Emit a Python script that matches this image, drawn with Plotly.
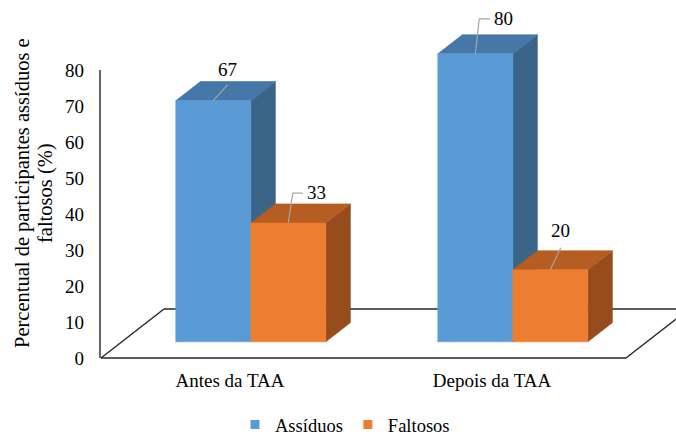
import plotly.graph_objects as go

# ---------------- data ----------------
categories = ["Antes da TAA", "Depois da TAA"]
series_names = ["Assíduos", "Faltosos"]
assiduos = [67, 80]
faltosos = [33, 20]
y_ticks = [0, 10, 20, 30, 40, 50, 60, 70, 80]
y_title_lines = ["Percentual de participantes assíduos e", "faltosos (%)"]

# ---------------- style / geometry ----------------
W, H = 676, 436
ML, MR, MT, MB = 95, 0, 0, 71
PX_CAT = 262.0        # pixels per category unit
CAT0_PX = 230.0       # pixel x of category 0 (front of floor)
PX_VAL = 3.6          # pixels per value unit
Y0_PX = 358.0         # pixel y of value 0 (front of floor)

x_range = [(ML - CAT0_PX) / PX_CAT, (W - MR - CAT0_PX) / PX_CAT]
y_range = [-(H - MB - Y0_PX) / PX_VAL, Y0_PX / PX_VAL]

DX = 63 / PX_CAT      # full floor depth, x part
DY = 49 / PX_VAL      # full floor depth, y part
D0, D1 = 0.33, 0.72   # bar depth span (fraction of floor depth)
BW = 75 / PX_CAT      # bar width
FLOOR_L = (101 - CAT0_PX) / PX_CAT
FLOOR_R = (626 - CAT0_PX) / PX_CAT
AXIS_X = (100 - CAT0_PX) / PX_CAT

colors = [
    {"front": "#5B9BD5", "top": "#4577A9", "side": "#3A6488"},
    {"front": "#ED7D31", "top": "#B55D22", "side": "#964C1B"},
]
line_col = "#262626"
leader_col = "#A6A6A6"
font_fam = "Liberation Serif, Times New Roman, Times, DejaVu Serif, serif"

# label leader offsets (pixels) relative to front-top centre of each bar: [series][category]
leader_px = [
    [[(0, 0), (14.5, -16)], [(0, 0), (4, -35), (15, -35)]],
    [[(0, 0), (4.5, -30), (14.5, -30)], [(0, 0), (10.5, -22)]],
]
label_px = [
    [(14.5, -31), (28.5, -35)],
    [(28.5, -31), (10.5, -39)],
]
title_x_px = [22, 45]
title_y_px = 193

fig = go.Figure()


def poly(xs, ys, color):
    fig.add_trace(go.Scatter(
        x=xs + [xs[0]], y=ys + [ys[0]], mode="lines", fill="toself",
        fillcolor=color, line=dict(color=color, width=0.6),
        hoverinfo="skip", showlegend=False))


def seg(xs, ys, color, width):
    fig.add_trace(go.Scatter(
        x=xs, y=ys, mode="lines", line=dict(color=color, width=width),
        hoverinfo="skip", showlegend=False))


# floor (outline only) and vertical axis line
seg([FLOOR_L + DX, FLOOR_R + DX + 0.2], [DY, DY], line_col, 1.4)
seg([FLOOR_L, FLOOR_L + DX], [0, DY], line_col, 1.4)
seg([FLOOR_R, FLOOR_R + DX], [0, DY], line_col, 1.4)
seg([FLOOR_L, FLOOR_R], [0, 0], line_col, 1.4)
seg([AXIS_X, AXIS_X], [0, y_ticks[-1]], line_col, 1.4)

series_vals = [assiduos, faltosos]
annotations = []
for ci in range(len(categories)):
    for si, vals in enumerate(series_vals):
        v = vals[ci]
        c = colors[si]
        x0 = ci + (si - 1) * BW
        x1 = x0 + BW
        fx0, fx1 = x0 + D0 * DX, x1 + D0 * DX
        bx0, bx1 = x0 + D1 * DX, x1 + D1 * DX
        fy0, fy1 = D0 * DY, D0 * DY + v
        by0, by1 = D1 * DY, D1 * DY + v
        # side face
        poly([fx1, bx1, bx1, fx1], [fy0, by0, by1, fy1], c["side"])
        # top face
        poly([fx0, fx1, bx1, bx0], [fy1, fy1, by1, by1], c["top"])
        # front face
        poly([fx0, fx1, fx1, fx0], [fy0, fy0, fy1, fy1], c["front"])

for ci in range(len(categories)):
    for si, vals in enumerate(series_vals):
        v = vals[ci]
        x0 = ci + (si - 1) * BW
        cx = x0 + BW / 2 + D0 * DX
        cy = D0 * DY + v
        pts = leader_px[si][ci]
        seg([cx + px / PX_CAT for px, py in pts],
            [cy - py / PX_VAL for px, py in pts], leader_col, 1.2)
        lx, ly = label_px[si][ci]
        annotations.append(dict(
            x=cx + lx / PX_CAT, y=cy - ly / PX_VAL, xref="x", yref="y",
            text=str(v), showarrow=False, xanchor="center", yanchor="middle",
            font=dict(family=font_fam, size=19, color="#000000")))

# legend entries
for si, name in enumerate(series_names):
    fig.add_trace(go.Scatter(
        x=[None], y=[None], mode="markers", name=name,
        marker=dict(symbol="square", size=9, color=colors[si]["front"]),
        showlegend=True))

for line, xp in zip(y_title_lines, title_x_px):
    annotations.append(dict(
        x=(xp - ML) / (W - ML - MR), y=(Y0_PX - title_y_px) / PX_VAL,
        xref="paper", yref="y", text=line, textangle=-90, showarrow=False,
        xanchor="center", yanchor="middle",
        font=dict(family=font_fam, size=20.5, color="#000000")))

fig.update_layout(
    width=W, height=H,
    margin=dict(l=ML, r=MR, t=MT, b=MB, pad=0, autoexpand=False),
    paper_bgcolor="white", plot_bgcolor="white",
    font=dict(family=font_fam, size=19, color="#000000"),
    xaxis=dict(range=x_range, tickvals=list(range(len(categories))), ticktext=categories,
               showgrid=False, zeroline=False, showline=False, ticks="",
               ticklabelstandoff=2, fixedrange=True, automargin=False,
               tickfont=dict(family=font_fam, size=19)),
    yaxis=dict(range=y_range, tickvals=y_ticks, showgrid=False, zeroline=False,
               showline=False, ticks="", ticklabelstandoff=10, fixedrange=True,
               automargin=False, tickfont=dict(family=font_fam, size=19)),
    legend=dict(orientation="h", x=(345 - ML) / (W - ML - MR), xanchor="center",
                y=-(425 - (H - MB)) / (H - MT - MB), yanchor="middle",
                font=dict(family=font_fam, size=18.5), itemwidth=30,
                bgcolor="rgba(0,0,0,0)"),
    annotations=annotations,
    showlegend=True,
)

fig.write_html("out.html", config={"displayModeBar": False},
               post_script="document.body.style.margin='0';")
